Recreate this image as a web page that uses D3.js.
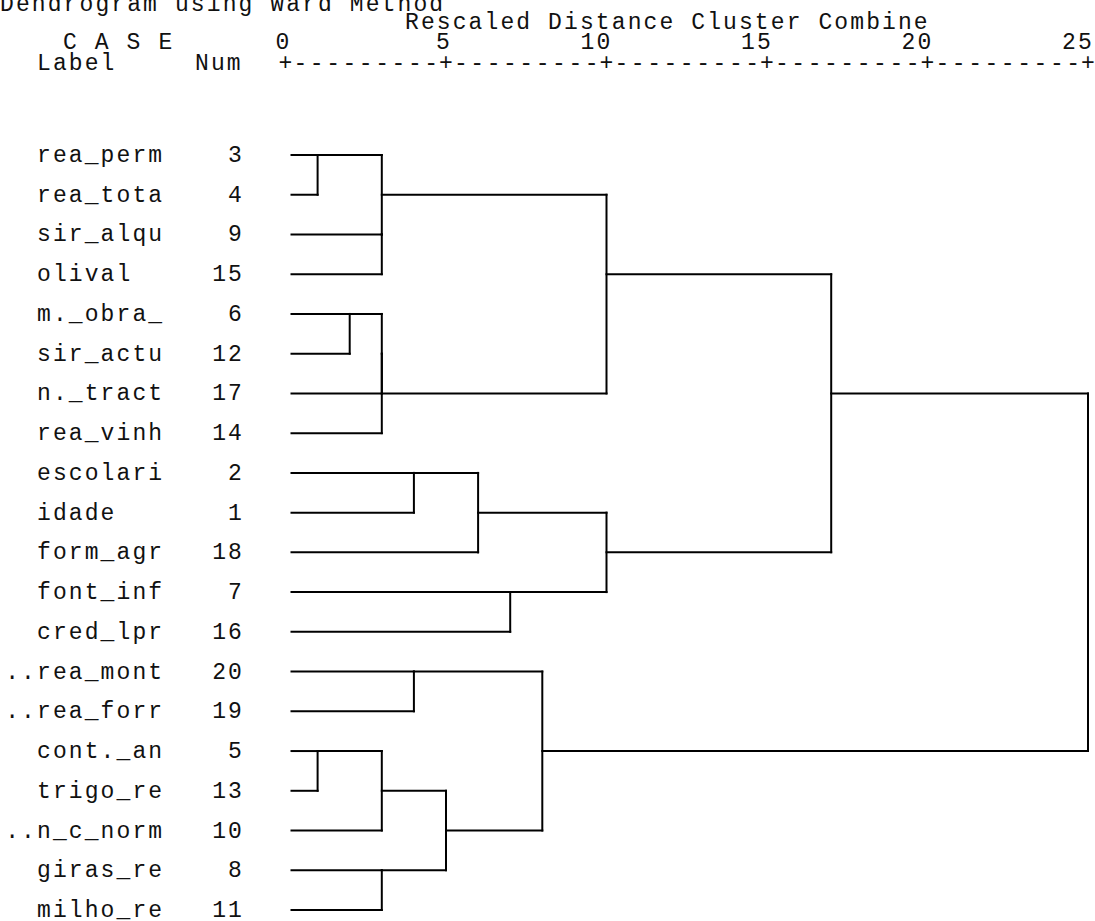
<!DOCTYPE html>
<html><head><meta charset="utf-8">
<script src="https://cdn.jsdelivr.net/npm/d3@7"></script>
<style>html,body{margin:0;padding:0;background:#fff;overflow:hidden}</style>
</head><body><svg id="c" width="1095" height="921"></svg>
<script>
// ---- data ----
const titleText = "Dendrogram using Ward Method";
const axisTitle = "Rescaled Distance Cluster Combine";
const caseHeader = "C A S E";
const labelHeader = "Label";
const numHeader = "Num";
const caseLabels = ["rea_perm","rea_tota","sir_alqu","olival","m._obra_","sir_actu","n._tract","rea_vinh",
  "escolari","idade","form_agr","font_inf","cred_lpr","..rea_mont","..rea_forr","cont._an","trigo_re",
  "..n_c_norm","giras_re","milho_re"];
const caseNums = [3,4,9,15,6,12,17,14,2,1,18,7,16,20,19,5,13,10,8,11];
const tickValues = [0,5,10,15,20,25];
// merges: left child, right child, rescaled distance ("c#" = case, "m#" = merge index)
const mergeLeft   = ["c3","c9","m0","c6","m3","m4","m2","c2","m7","c7","m8","m6","c20","c5","m13","c8","m14","m12","m11"];
const mergeRight  = ["c4","c15","m1","c12","c17","c14","m5","c1","c18","c16","m9","m10","c19","c13","c10","c11","m15","m16","m17"];
const mergeHeight = [1,3,3,2,3,3,10,4,6,7,10,17,4,1,3,3,5,8,25];

// ---- layout ----
const svg = d3.select("#c");
const font = "'Courier New','Liberation Mono',monospace";
const fs = 23, pitch = 15.9, ls = pitch - fs*0.6;
const x = d3.scaleLinear().domain([0,25]).range([285.5,1088]);
const leafOffset = 6;
const y = d3.scaleLinear().domain([0, caseNums.length-1]).range([155, 910]);
const textDy = 7;

function txt(s, xx, yy, anchor) {
  return svg.append("text").attr("x", xx).attr("y", yy)
    .attr("font-family", font).attr("font-size", fs).attr("letter-spacing", ls)
    .attr("fill", "#111").attr("text-anchor", anchor || "start").text(s);
}

txt(titleText, 0, 11);
txt(axisTitle, 405, 29);
txt(caseHeader, 63, 49);
txt(labelHeader, 37, 70);
txt(numHeader, 195, 70);

// tick labels (last digit over the tick)
svg.selectAll("text.tick").data(tickValues).enter().append("text").attr("class","tick")
  .attr("x", d => x(d) + pitch/2 - ls).attr("y", 49).attr("text-anchor","end")
  .attr("font-family", font).attr("font-size", fs).attr("letter-spacing", ls).attr("fill","#111")
  .text(d => d);
// axis row: + at ticks, dashes between
svg.selectAll("text.plus").data(tickValues).enter().append("text").attr("class","plus")
  .attr("x", d => x(d)).attr("y", 70).attr("text-anchor","middle")
  .attr("font-family", font).attr("font-size", fs).attr("fill","#111").text("+");
svg.selectAll("text.dash").data(tickValues.slice(0,-1)).enter().append("text").attr("class","dash")
  .attr("x", d => x(d) + pitch/2).attr("y", 70)
  .attr("textLength", (d,i) => x(tickValues[i+1]) - x(d) - pitch).attr("lengthAdjust","spacing")
  .attr("font-family", font).attr("font-size", fs).attr("fill","#111").text("---------");

// case labels and numbers
svg.selectAll("text.lab").data(caseLabels).enter().append("text").attr("class","lab")
  .attr("x", d => 37 - (d.match(/^\.*/)[0].length) * pitch).attr("y", (d,i) => y(i) + textDy)
  .attr("font-family", font).attr("font-size", fs).attr("letter-spacing", ls).attr("fill","#111")
  .text(d => d);
svg.selectAll("text.num").data(caseNums).enter().append("text").attr("class","num")
  .attr("x", 244).attr("y", (d,i) => y(i) + textDy).attr("text-anchor","end")
  .attr("font-family", font).attr("font-size", fs).attr("letter-spacing", ls).attr("fill","#111")
  .text(d => d);

// tree
const nodes = {};
caseNums.forEach((n,i) => nodes["c"+n] = {row: i, h: 0, px: x(0) + leafOffset});
const segs = [];
mergeHeight.forEach((h,k) => {
  const a = nodes[mergeLeft[k]], b = nodes[mergeRight[k]];
  const px = x(h);
  segs.push([a.px, y(a.row), px, y(a.row)]);
  segs.push([b.px, y(b.row), px, y(b.row)]);
  segs.push([px, y(a.row), px, y(b.row)]);
  nodes["m"+k] = {row: Math.floor((a.row + b.row)/2), h: h, px: px};
});
svg.append("g").selectAll("line").data(segs).enter().append("line")
  .attr("x1", d => d[0]).attr("y1", d => d[1])
  .attr("x2", d => d[2]).attr("y2", d => d[3])
  .attr("stroke", "#000").attr("stroke-width", 2).attr("stroke-linecap","square");
</script>
</body></html>
